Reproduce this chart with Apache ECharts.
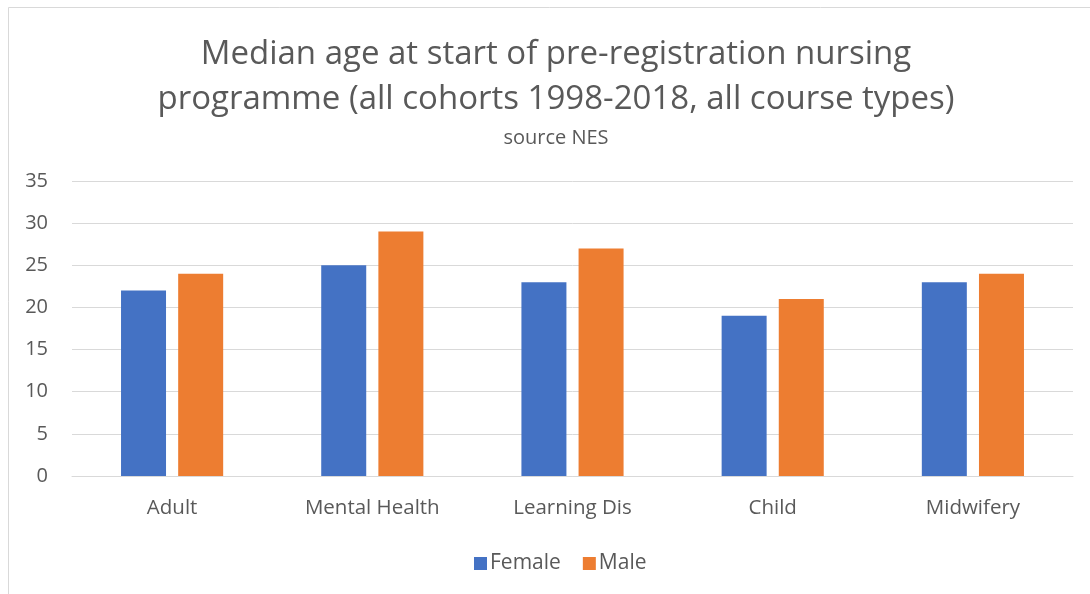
<!DOCTYPE html>
<html>
<head>
<meta charset="utf-8">
<script src="https://cdn.jsdelivr.net/npm/echarts@6/dist/echarts.min.js"></script>
<style>
  html, body { margin: 0; padding: 0; background: #fff; }
  #chart { width: 1090px; height: 594px; }
</style>
</head>
<body>
<div id="chart"></div>
<script>
const categories = ["Adult", "Mental Health", "Learning Dis", "Child", "Midwifery"];
const female = [22, 25, 23, 19, 23];
const male = [24, 29, 27, 21, 24];

const textColor = "#595959";
const font = "'Open Sans', 'Noto Sans', sans-serif";

const chart = echarts.init(document.getElementById("chart"));
chart.setOption({
  backgroundColor: "#fff",
  textStyle: { fontFamily: font },
  graphic: [{
    type: "rect",
    shape: { x: 8.5, y: 7.5, width: 1100, height: 600 },
    style: { fill: null, stroke: "#d9d9d9", lineWidth: 1 },
    silent: true
  }],
  title: {
    text: "Median age at start of pre-registration nursing\nprogramme (all cohorts 1998-2018, all course types)",
    subtext: "source NES",
    left: 551,
    textAlign: "center",
    top: 27,
    itemGap: 6,
    textStyle: { color: textColor, fontSize: 33, fontWeight: "normal", lineHeight: 45, fontFamily: font },
    subtextStyle: { color: textColor, fontSize: 20, fontFamily: font }
  },
  legend: {
    data: ["Female", "Male"],
    bottom: 15,
    left: 469,
    itemWidth: 13,
    itemHeight: 13,
    itemGap: 22,
    icon: "rect",
    textStyle: { color: textColor, fontSize: 21, fontFamily: font, padding: [0, 0, 0, -2] }
  },
  grid: { left: 72, right: 17, top: 181, bottom: 118, containLabel: false },
  xAxis: {
    type: "category",
    data: categories,
    axisLine: { lineStyle: { color: "#d9d9d9", width: 1 } },
    axisTick: { show: false },
    axisLabel: { color: textColor, fontSize: 20.5, margin: 22, fontFamily: font }
  },
  yAxis: {
    type: "value",
    min: 0,
    max: 35,
    interval: 5,
    axisLine: { show: false },
    axisTick: { show: false },
    splitLine: { lineStyle: { color: "#d9d9d9", width: 1 } },
    axisLabel: { color: textColor, fontSize: 20, margin: 24, fontFamily: font }
  },
  series: [
    {
      name: "Female",
      type: "bar",
      data: female,
      barWidth: 45,
      barGap: "27%",
      itemStyle: { color: "#4472c4" }
    },
    {
      name: "Male",
      type: "bar",
      data: male,
      barWidth: 45,
      itemStyle: { color: "#ed7d31" }
    }
  ]
});
</script>
</body>
</html>
